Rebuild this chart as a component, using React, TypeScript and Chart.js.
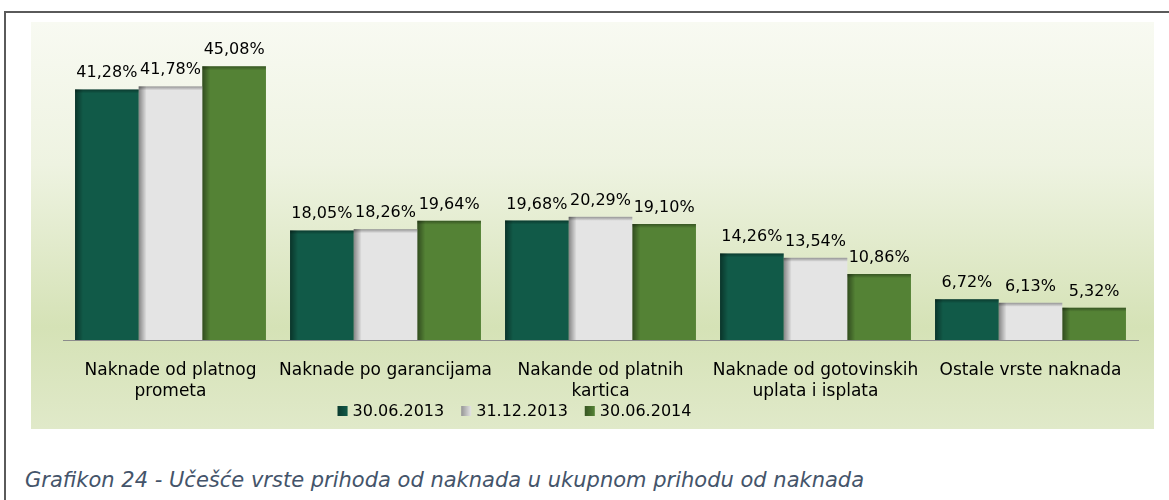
import React, { useEffect, useRef } from "react";
import { Chart, registerables } from "chart.js";

Chart.register(...registerables);

const categories: string[][] = [
  ["Naknade od platnog", "prometa"],
  ["Naknade po garancijama"],
  ["Nakande od platnih", "kartica"],
  ["Naknade od gotovinskih", "uplata i isplata"],
  ["Ostale vrste naknada"],
];
const seriesNames: string[] = ["30.06.2013", "31.12.2013", "30.06.2014"];
const values3006_2013: number[] = [41.28, 18.05, 19.68, 14.26, 6.72];
const values3112_2013: number[] = [41.78, 18.26, 20.29, 13.54, 6.13];
const values3006_2014: number[] = [45.08, 19.64, 19.1, 10.86, 5.32];
const seriesColors: string[] = ["#115a48", "#e4e4e4", "#548235"];
const yMax = 50;
const caption = "Grafikon 24 - Učešće vrste prihoda od naknada u ukupnom prihodu od naknada";

const FONT = "'DejaVu Sans', sans-serif";

const fmt = (v: number) => v.toFixed(2).replace(".", ",") + "%";

const barEffects = {
  id: "barEffects",
  afterDatasetsDraw(chart: any) {
    const ctx = chart.ctx as CanvasRenderingContext2D;
    ctx.save();
    chart.data.datasets.forEach((_ds: any, di: number) => {
      const meta = chart.getDatasetMeta(di);
      meta.data.forEach((el: any) => {
        const { x, y, base, width } = el.getProps(["x", "y", "base", "width"], true);
        const left = x - width / 2;
        const h = base - y;
        const gl = ctx.createLinearGradient(left, 0, left + 8, 0);
        gl.addColorStop(0, "rgba(0,0,0,0.42)");
        gl.addColorStop(1, "rgba(0,0,0,0)");
        ctx.fillStyle = gl;
        ctx.fillRect(left, y, 8, h);
        const gt = ctx.createLinearGradient(0, y, 0, y + 4);
        gt.addColorStop(0, "rgba(0,0,0,0.35)");
        gt.addColorStop(1, "rgba(0,0,0,0)");
        ctx.fillStyle = gt;
        ctx.fillRect(left, y, width, 4);
      });
    });
    // data labels
    ctx.font = `16px ${FONT}`;
    ctx.fillStyle = "#000";
    ctx.textAlign = "center";
    ctx.textBaseline = "alphabetic";
    chart.data.datasets.forEach((ds: any, di: number) => {
      const meta = chart.getDatasetMeta(di);
      meta.data.forEach((el: any, i: number) => {
        const { x, y } = el.getProps(["x", "y"], true);
        ctx.fillText(fmt(ds.data[i]), x, y - 12);
      });
    });
    ctx.restore();
  },
};

const customLegend = {
  id: "customLegend",
  afterDraw(chart: any) {
    const ctx = chart.ctx as CanvasRenderingContext2D;
    ctx.save();
    ctx.font = `16px ${FONT}`;
    ctx.textBaseline = "middle";
    ctx.textAlign = "left";
    const marker = 11;
    const gap = 4;
    const itemGap = 17;
    const widths = seriesNames.map((n) => marker + gap + ctx.measureText(n).width);
    const total = widths.reduce((a, b) => a + b, 0) + itemGap * (seriesNames.length - 1);
    const cx = 483.5;
    const cy = 389;
    let x = cx - total / 2;
    seriesNames.forEach((n, i) => {
      ctx.fillStyle = seriesColors[i];
      ctx.fillRect(x, cy - 5, marker - 1, 10);
      const g = ctx.createLinearGradient(x, 0, x + marker - 1, 0);
      g.addColorStop(0, "rgba(0,0,0,0.35)");
      g.addColorStop(1, "rgba(0,0,0,0)");
      ctx.fillStyle = g;
      ctx.fillRect(x, cy - 5, marker - 1, 10);
      ctx.fillStyle = "#000";
      ctx.fillText(n, x + marker + gap, cy + 1);
      x += widths[i] + itemGap;
    });
    ctx.restore();
  },
};

export default function App() {
  const canvasRef = useRef<HTMLCanvasElement | null>(null);

  useEffect(() => {
    document.body.style.margin = "0";
    const canvas = canvasRef.current;
    if (!canvas) return;
    const data = [values3006_2013, values3112_2013, values3006_2014];
    const chart = new Chart(canvas, {
      type: "bar",
      data: {
        labels: categories,
        datasets: seriesNames.map((name, i) => ({
          label: name,
          data: data[i],
          backgroundColor: seriesColors[i],
          borderWidth: 0,
          barPercentage: 1,
          categoryPercentage: 0.888,
        })),
      },
      options: {
        animation: false,
        responsive: false,
        devicePixelRatio: 1,
        layout: { padding: { left: 32, right: 16, top: 14.5, bottom: 0 } },
        plugins: {
          legend: { display: false },
          tooltip: { enabled: false },
        },
        scales: {
          x: {
            grid: { display: false },
            border: { display: true, color: "#8c8c8c", width: 1 },
            ticks: {
              color: "#000",
              font: { family: FONT, size: 17, lineHeight: 1.18 },
              padding: 13,
              maxRotation: 0,
              autoSkip: false,
            },
            afterFit: (scale: any) => {
              scale.height = 89;
            },
          },
          y: {
            display: false,
            min: 0,
            max: yMax,
          },
        },
      },
      plugins: [barEffects, customLegend],
    });
    return () => chart.destroy();
  }, []);

  return (
    <div style={{ position: "relative", width: 1169, height: 500, overflow: "hidden", background: "#fff" }}>
      <div
        style={{
          position: "absolute",
          left: 4,
          top: 11,
          width: 1200,
          height: 600,
          borderTop: "2px solid #5a5a5a",
          borderLeft: "2px solid #5a5a5a",
        }}
      />
      <div
        style={{
          position: "absolute",
          left: 31,
          top: 22,
          width: 1123,
          height: 407,
          background: "linear-gradient(to bottom, #f8faf2 0%, #eef3e1 35%, #d5e2b6 75%, #e0e9c9 100%)",
        }}
      >
        <canvas ref={canvasRef} width={1123} height={407} style={{ display: "block", width: 1123, height: 407 }} />
      </div>
      <div
        style={{
          position: "absolute",
          left: 25,
          top: 468,
          fontFamily: FONT,
          fontStyle: "italic",
          fontSize: 21,
          lineHeight: "25px",
          color: "#44546a",
          whiteSpace: "nowrap",
        }}
      >
        {caption}
      </div>
    </div>
  );
}
